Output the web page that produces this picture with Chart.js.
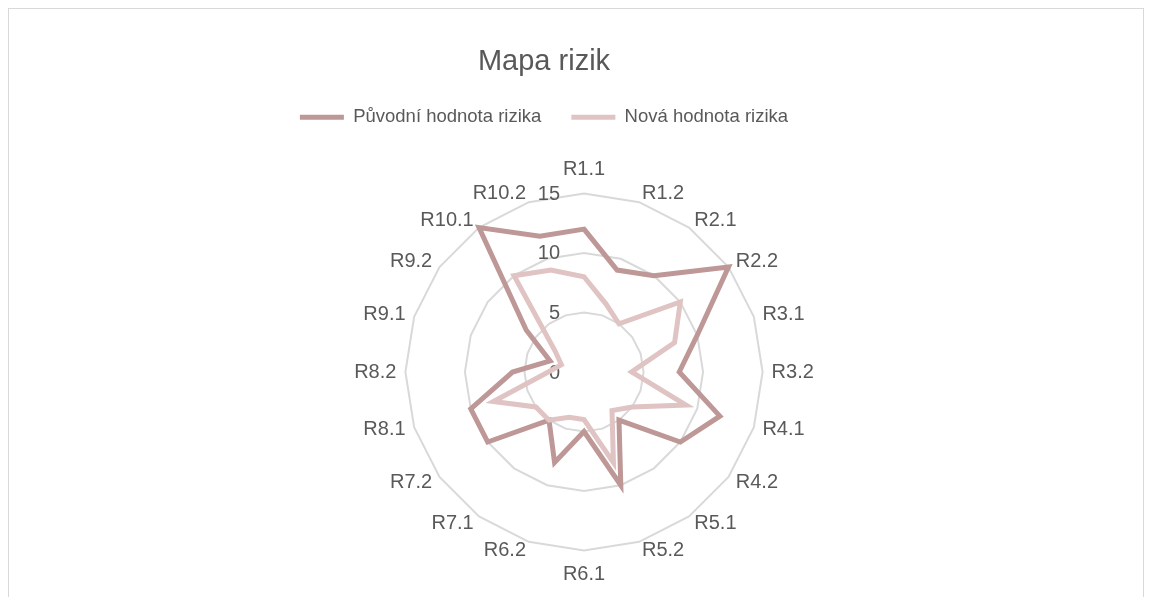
<!DOCTYPE html>
<html lang="cs">
<head>
<meta charset="utf-8">
<title>Mapa rizik</title>
<script src="https://cdn.jsdelivr.net/npm/chart.js@4/dist/chart.umd.min.js"></script>
<style>
    html, body { margin: 0; padding: 0; background: #fff; overflow: hidden; }
    #frame {
        position: absolute;
        left: 8px;
        top: 8px;
        width: 1134px;
        height: 640px;
        border: 1px solid #d9d9d9;
    }
    canvas { display: block; }
</style>
</head>
<body>
<div id="frame">
    <canvas id="riskChart" width="1134" height="640"></canvas>
</div>
<script>
// Mapa rizik - radar

const categories = ["R1.1", "R1.2", "R2.1", "R2.2", "R3.1", "R3.2", "R4.1", "R4.2", "R5.1", "R5.2",
    "R6.1", "R6.2", "R7.1", "R7.2", "R8.1", "R8.2", "R9.1", "R9.2", "R10.1", "R10.2"];

const puvodniHodnota = [12, 9, 10, 15, 10, 8, 12, 10, 5, 10, 5, 8, 5, 10, 10, 6, 3, 6, 15, 12];
const novaHodnota = [8, 6, 5, 10, 8, 4, 9, 5, 4, 8, 4, 4, 5, 5, 8, 3, 2, 3, 10, 9];

const tickValues = [0, 5, 10, 15];

const TEXT_COLOR = "#595959";
const FONT = "'Liberation Sans', Arial, sans-serif";

Chart.defaults.font.family = FONT;
Chart.defaults.color = TEXT_COLOR;

// ticks drawn left of the vertical axis, like Excel does
const tickLabels = {
    id: "tickLabels",
    beforeDatasetsDraw(chart) {
        const scale = chart.scales.r;
        const ctx = chart.ctx;

        ctx.save();
        ctx.font = "20px " + FONT;
        ctx.fillStyle = TEXT_COLOR;
        ctx.textAlign = "right";
        ctx.textBaseline = "middle";

        scale.ticks.forEach(tick => {
            if (!tickValues.includes(tick.value)) return;
            const y = scale.yCenter - scale.getDistanceFromCenterForValue(tick.value);
            ctx.fillText(String(tick.value), scale.xCenter - 24, y + 1);
        });

        ctx.restore();
    }
};

// invisible spacer axes (shift plot area against title/legend)
function spacer(axis, position, size) {
    return {
        type: "linear",
        axis: axis,
        position: position,
        min: 0,
        max: 1,
        display: true,
        grid: { display: false },
        border: { display: false },
        ticks: { display: false },
        afterFit(scale) {
            if (axis === "y") scale.width = size;
            else scale.height = size;
        }
    };
}

const ctx = document.getElementById("riskChart");

new Chart(ctx, {
    type: "radar",
    data: {
        labels: categories,
        datasets: [
            {
                label: "Původní hodnota rizika",
                data: puvodniHodnota,
                borderColor: "#be9797",
                backgroundColor: "#be9797",
                borderWidth: 5,
                borderCapStyle: "round",
                fill: false,
                pointRadius: 0,
                pointHoverRadius: 0,
                order: 1
            },
            {
                label: "Nová hodnota rizika",
                data: novaHodnota,
                borderColor: "#e0c3c3",
                backgroundColor: "#e0c3c3",
                borderWidth: 5,
                borderCapStyle: "round",
                fill: false,
                pointRadius: 0,
                pointHoverRadius: 0,
                order: 0
            }
        ]
    },
    options: {
        responsive: false,
        animation: false,
        layout: {
            padding: { left: 0, right: 64, top: 0, bottom: 73 }
        },
        plugins: {
            title: {
                display: true,
                text: "Mapa rizik",
                color: TEXT_COLOR,
                font: { size: 29, weight: "normal", lineHeight: 1.1 },
                padding: { top: 37, bottom: 0 }
            },
            legend: {
                display: true,
                position: "top",
                labels: {
                    usePointStyle: true,
                    pointStyle: "line",
                    pointStyleWidth: 44,
                    padding: 30,
                    color: TEXT_COLOR,
                    font: { size: 18.5 },
                    sort: (a, b) => a.datasetIndex - b.datasetIndex
                }
            },
            tooltip: { enabled: false }
        },
        scales: {
            r: {
                min: 0,
                max: 15,
                ticks: { stepSize: 5, display: false },
                angleLines: { display: false },
                grid: { color: "#d9d9d9", lineWidth: 2, circular: false },
                pointLabels: {
                    color: TEXT_COLOR,
                    // zero line height: label centred on its anchor point
                    font: { size: 20, lineHeight: 0 },
                    padding: c => (c.index === 0 || c.index === 10) ? 24 : 9
                }
            },
            padLeft: spacer("y", "left", 80),
            padTop: spacer("x", "top", 33)
        }
    },
    plugins: [tickLabels]
});
</script>
</body>
</html>
